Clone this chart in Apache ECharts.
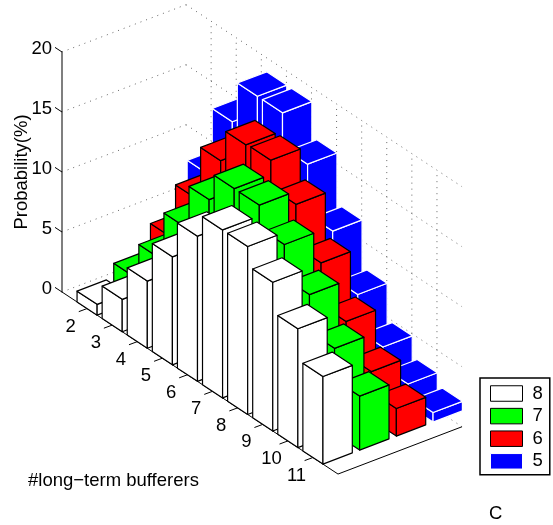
<!DOCTYPE html>
<html>
<head>
<meta charset="utf-8">
<style>html,body{margin:0;padding:0;background:#fff}#chart{width:553px;height:525px}</style>
<script src="https://cdn.jsdelivr.net/npm/echarts@6/dist/echarts.min.js"></script>
</head>
<body>
<div id="chart"></div>
<script>
var bufferers = [2, 3, 4, 5, 6, 7, 8, 9, 10, 11];
var zTicks = [0, 5, 10, 15, 20];

// probability(%) per #long-term bufferers
var values8 = [0.9, 2.7, 5.6, 9.0, 12.1, 14.0, 14.0, 12.4, 9.9, 7.3];
var values7 = [2.05, 5.0, 9.0, 12.6, 14.9, 14.9, 13.0, 10.2, 7.1, 4.5];
var values6 = [4.2, 8.8, 13.3, 16.0, 16.1, 13.8, 10.3, 6.8, 4.0, 2.3];
var values5 = [8.3, 14.0, 17.5, 17.5, 14.6, 10.4, 6.5, 3.5, 1.8, 0.8];

var FONT = '"Liberation Sans", Arial, sans-serif';
var FS = 18.5;

// oblique projection: the grid gives x and z, these add the slant
var SKEW_X = 16.55;            // px down per x unit
var ROW = [36.7, -14];         // px per row, going to the back
var BACK = 3.38;               // floor depth in rows
var XMIN = 1, XMAX = 12;
var HALF = 0.4, DEPTH = 0.8;

function project(api, x, b, z) {
  var p = api.coord([x, z]);
  return [p[0] + b * ROW[0], p[1] + (x - XMIN) * SKEW_X + b * ROW[1]];
}

function barSeries(name, values, row, fill, edge) {
  return {
    name: name, type: 'custom', coordinateSystem: 'cartesian2d', silent: true,
    itemStyle: { color: fill },
    data: bufferers.map(function (x, i) { return [x, values[i]]; }),
    renderItem: function (params, api) {
      var x = api.value(0), z = api.value(1);
      var x0 = x - HALF, x1 = x + HALF, b0 = row, b1 = row + DEPTH;
      var style = { fill: fill, stroke: edge, lineWidth: 1.2, lineJoin: 'round' };
      function face(pts) {
        return { type: 'polygon', shape: { points: pts }, style: style };
      }
      return {
        type: 'group',
        children: [
          face([project(api, x0, b0, 0), project(api, x1, b0, 0), project(api, x1, b0, z), project(api, x0, b0, z)]),
          face([project(api, x1, b0, 0), project(api, x1, b1, 0), project(api, x1, b1, z), project(api, x1, b0, z)]),
          face([project(api, x0, b0, z), project(api, x1, b0, z), project(api, x1, b1, z), project(api, x0, b1, z)])
        ]
      };
    }
  };
}

function line(a, b, style) {
  return { type: 'line', shape: { x1: a[0], y1: a[1], x2: b[0], y2: b[1] }, style: style };
}
var DOTS = { stroke: '#666', lineWidth: 1, lineDash: [1, 5] };
var SOLID = { stroke: '#000', lineWidth: 1 };

// dotted wall lines, slanted tick and label per z tick
var zFrame = {
  type: 'custom', coordinateSystem: 'cartesian2d', silent: true,
  data: zTicks.map(function (z) { return [XMIN, z]; }),
  renderItem: function (params, api) {
    var z = api.value(1);
    var left = project(api, XMIN, 0, z);
    var back = project(api, XMIN, BACK, z);
    var right = project(api, XMAX, BACK, z);
    return {
      type: 'group',
      children: [
        line(left, back, DOTS),
        line(back, right, DOTS),
        line(left, [left[0] - 7, left[1] - 4.6], SOLID),
        {
          type: 'text',
          style: {
            text: String(z), x: left[0] - 10, y: left[1] - 3,
            align: 'right', verticalAlign: 'middle',
            fill: '#000', font: FS + 'px ' + FONT
          }
        }
      ]
    };
  }
};

// x ticks, labels, wall verticals and floor lines
var xFrame = {
  type: 'custom', coordinateSystem: 'cartesian2d', silent: true,
  data: bufferers.map(function (x) { return [x, 0]; }),
  renderItem: function (params, api) {
    var x = api.value(0);
    var foot = project(api, x, 0, 0);
    return {
      type: 'group',
      children: [
        line(foot, project(api, x, BACK, 0), DOTS),
        line(project(api, x, BACK, 0), project(api, x, BACK, 20), DOTS),
        line(foot, [foot[0] - 8.3, foot[1] + 3.1], SOLID),
        {
          type: 'text',
          style: {
            text: String(x), x: foot[0] - 16.4, y: foot[1] + 18,
            align: 'center', verticalAlign: 'middle',
            fill: '#000', font: FS + 'px ' + FONT
          }
        }
      ]
    };
  }
};

// solid floor edges
var floorFrame = {
  type: 'custom', coordinateSystem: 'cartesian2d', silent: true,
  data: [[XMIN, 0]],
  renderItem: function (params, api) {
    var a = project(api, XMIN, 0, 0), b = project(api, XMAX, 0, 0), c = project(api, XMAX, BACK, 0);
    return {
      type: 'group',
      children: [line(a, b, SOLID), line(b, c, SOLID)]
    };
  }
};

var option = {
  animation: false,
  backgroundColor: '#fff',
  grid: { left: 62, top: 52, width: 276, height: 240 },
  xAxis: { type: 'value', min: XMIN, max: XMAX, show: false },
  yAxis: {
    type: 'value', min: 0, max: 20, interval: 5,
    name: 'Probability(%)', nameLocation: 'middle', nameRotate: 90, nameGap: 31,
    nameTextStyle: { fontFamily: FONT, fontSize: FS, color: '#000' },
    axisLine: { show: true, lineStyle: { color: '#555', width: 1.5 } },
    axisTick: { show: false },
    splitLine: { show: false },
    axisLabel: { show: false }
  },
  legend: {
    orient: 'vertical', left: 480, top: 378, selectedMode: false,
    padding: [6, 7, 4, 10], itemWidth: 32, itemHeight: 15.5, itemGap: 3.6,
    borderColor: '#000', borderWidth: 1.5,
    textStyle: { fontFamily: FONT, fontSize: FS, color: '#000', padding: [0, 0, 0, 5] },
    data: [
      { name: '8', icon: 'rect', itemStyle: { color: '#fff', borderColor: '#000', borderWidth: 1 } },
      { name: '7', icon: 'rect', itemStyle: { color: '#00ff00', borderColor: '#000', borderWidth: 1 } },
      { name: '6', icon: 'rect', itemStyle: { color: '#ff0000', borderColor: '#000', borderWidth: 1 } },
      { name: '5', icon: 'rect', itemStyle: { color: '#0000ff', borderColor: '#fff', borderWidth: 1 } }
    ]
  },
  graphic: [
    { type: 'text', left: 28, top: 471, style: { text: '#long\u2212term bufferers', fill: '#000', font: FS + 'px ' + FONT } },
    { type: 'text', left: 489, top: 504, style: { text: 'C', fill: '#000', font: FS + 'px ' + FONT } }
  ],
  series: [
    zFrame, xFrame, floorFrame,
    barSeries('5', values5, 3, '#0000ff', '#ffffff'),
    barSeries('6', values6, 2, '#ff0000', '#000000'),
    barSeries('7', values7, 1, '#00ff00', '#000000'),
    barSeries('8', values8, 0, '#ffffff', '#000000')
  ]
};

var chart = echarts.init(document.getElementById('chart'), null, { renderer: 'canvas' });
chart.setOption(option);
</script>
</body>
</html>
